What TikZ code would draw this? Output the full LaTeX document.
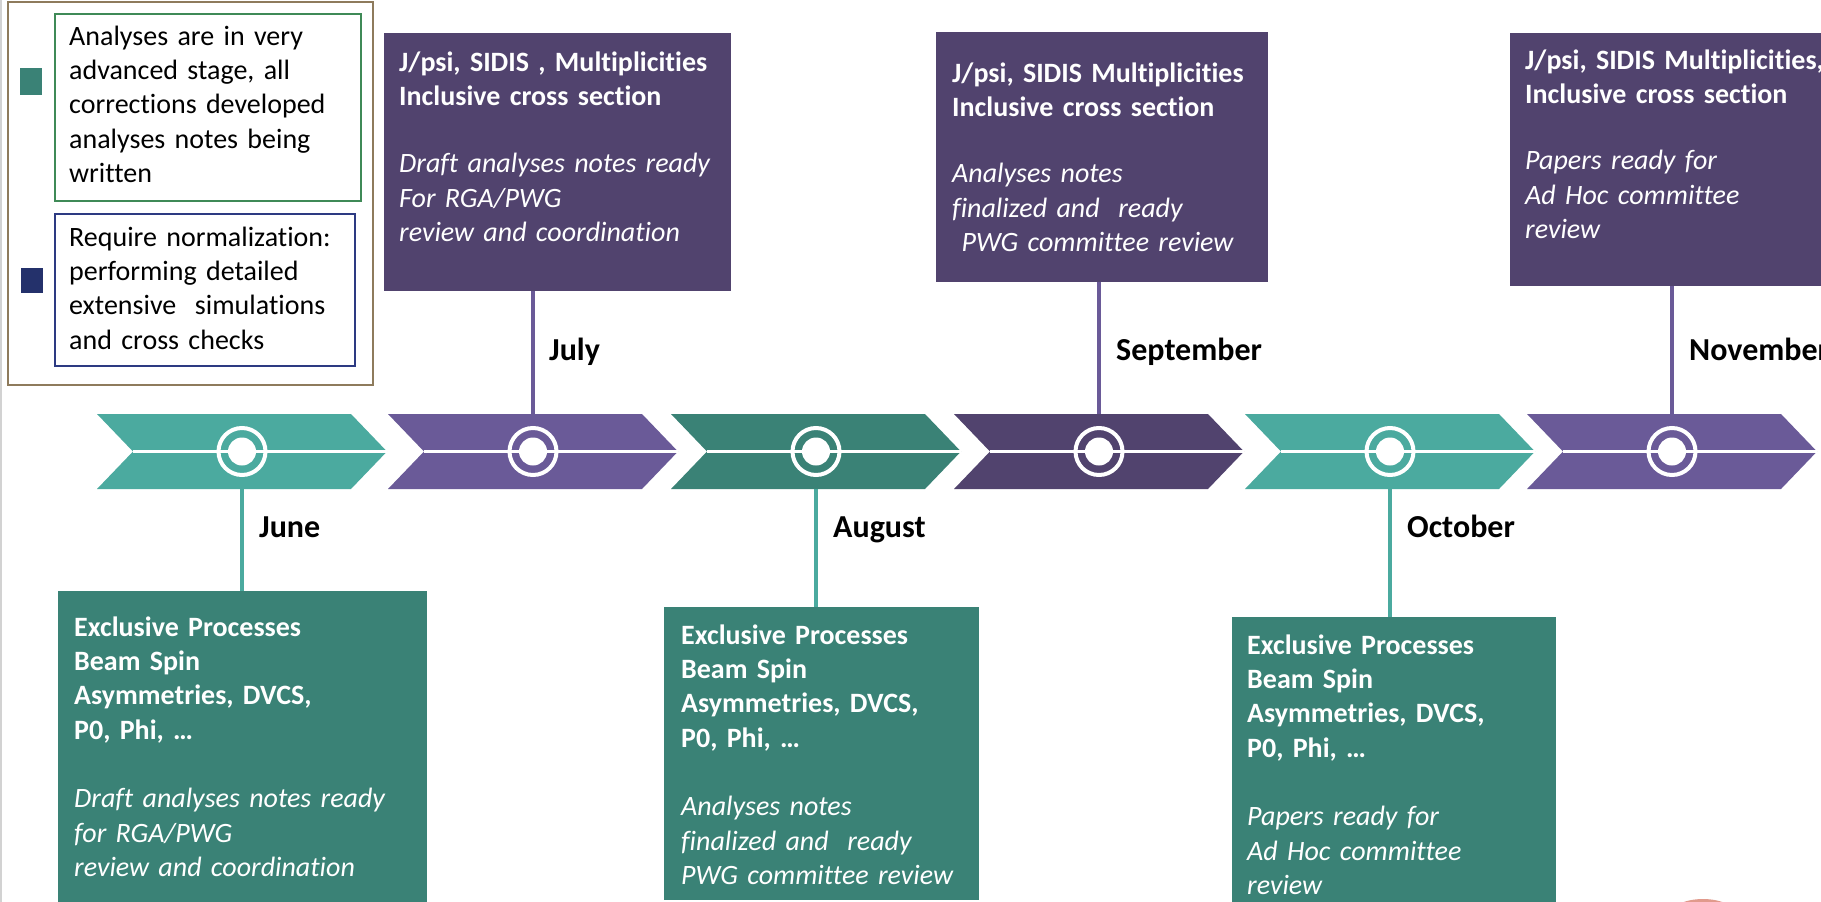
\documentclass[tikz,border=0pt]{standalone}
\usepackage{fontspec}
\setmainfont{Carlito}[Ligatures=NoCommon]

\definecolor{tealA}{HTML}{4BAA9F}
\definecolor{tealB}{HTML}{3A8276}
\definecolor{plumA}{HTML}{6A5A98}
\definecolor{plumB}{HTML}{51436E}
\definecolor{frameC}{HTML}{8E7B5C}
\definecolor{greenC}{HTML}{3F8A57}
\definecolor{navyC}{HTML}{2D3A82}
\definecolor{navyF}{HTML}{24316B}
\definecolor{salmonC}{HTML}{D9806F}

\tikzset{
  topbox/.style={fill=plumB, anchor=north west, inner sep=0pt, outer sep=0pt},
  lowbox/.style={fill=tealB, anchor=north west, inner sep=0pt, outer sep=0pt},
  boxtext/.style={text=white, anchor=base west, inner sep=0pt, text width=#1,
    align=left, font=\fontsize{28}{34.4}\selectfont},
  boxtext/.default=330pt,
  keybox/.style={anchor=north west, inner sep=0pt, line width=1.5pt},
  month/.style={anchor=base west, inner sep=0pt,
    font=\fontsize{32}{38}\selectfont\bfseries},
  ring/.style={circle, draw=white, line width=4pt, minimum size=47pt, inner sep=0pt},
  hub/.style={circle, fill=white, minimum size=28pt, inner sep=0pt},
  upline/.style={plumA, line width=4pt},
  downline/.style={tealA, line width=4pt},
}

\begin{document}
\begin{tikzpicture}[x=1pt,y=-1pt]
    \useasboundingbox (0,0) rectangle (1821,902);
    \clip (0,0) rectangle (1821,902);
    \fill[white] (0,0) rectangle (1821,902);
    \draw[gray!35, line width=1.5pt] (1,0) -- (1,902);

    % legend
    \draw[frameC, line width=2pt] (8,1.5) rectangle (373,385);
    \node[keybox, draw=greenC, minimum width=306pt, minimum height=187pt] (keyA) at (54,13) {};
    \node[keybox, draw=navyC, minimum width=300pt, minimum height=152pt] (keyB) at (54,213) {};
    \fill[tealB] (20,68) rectangle (42,95);
    \fill[navyF] (21,268) rectangle (43,293);
    \node[boxtext=290pt, text=black] (keyAtxt) at (69,45)
        {Analyses are in very\\advanced stage, all\\corrections developed\\analyses notes being\\written};
    \node[boxtext=290pt, text=black] (keyBtxt) at (69,246)
        {Require normalization:\\performing detailed\\extensive\ \ simulations\\and cross checks};

    % boxes above the line
    \node[topbox, minimum width=347pt, minimum height=258pt] (julbox) at (384,33) {};
    \node[topbox, minimum width=332pt, minimum height=250pt] (sepbox) at (936,32) {};
    \node[topbox, minimum width=330pt, minimum height=253pt] (novbox) at (1510,33) {};

    % boxes below the line
    \node[lowbox, minimum width=369pt, minimum height=320pt] (junbox) at (58,591) {};
    \node[lowbox, minimum width=315pt, minimum height=293pt] (augbox) at (664,607) {};
    \node[lowbox, minimum width=324pt, minimum height=300pt] (octbox) at (1232,617) {};

    % chevrons of the time line
    \foreach \cx/\col [count=\i] in {242/tealA,533/plumA,816/tealB,1099/plumB,1390/tealA,1672/plumA}{
        \coordinate (top\i) at (\cx,414);
        \coordinate (bot\i) at (\cx,489);
        \fill[\col] (\cx-145,414) -- (\cx+109,414) -- (\cx+145,451.5) -- (\cx+109,489)
            -- (\cx-145,489) -- (\cx-109,451.5) -- cycle;
        \draw[white, line width=3.5pt] (\cx-109,451.5) -- (\cx+145,451.5);
        \node[ring] (ring\i) at (\cx,451.5) {};
        \node[hub] (hub\i) at (\cx,451.5) {};
    }

    % stems
    \draw[upline] (top2) -- (top2 |- julbox.south);
    \draw[upline] (top4) -- (top4 |- sepbox.south);
    \draw[upline] (top6) -- (top6 |- novbox.south);
    \draw[downline] (bot1) -- (bot1 |- junbox.north);
    \draw[downline] (bot3) -- (bot3 |- augbox.north);
    \draw[downline] (bot5) -- (bot5 |- octbox.north);

    % months
    \node[month] (junlab) at (259,537) {June};
    \node[month] (jullab) at (549,360) {July};
    \node[month] (auglab) at (833,537) {August};
    \node[month] (seplab) at (1116,360) {September};
    \node[month] (octlab) at (1407,537) {October};
    \node[month] (novlab) at (1689,360) {November};

    % texts
    \node[boxtext] (jultxt) at (399,71)
        {\textbf{J/psi, SIDIS , Multiplicities}\\\textbf{Inclusive cross section}\\[33pt]
         \textit{Draft analyses notes ready}\\\textit{For RGA/PWG}\\\textit{review and coordination}};
    \node[boxtext] (septxt) at (952,82)
        {\textbf{J/psi, SIDIS Multiplicities}\\\textbf{Inclusive cross section}\\[32pt]
         \textit{Analyses notes}\\\textit{finalized and\ \ ready}\\\textit{\ PWG committee review}};
    \node[boxtext=360pt] (novtxt) at (1525,69)
        {\textbf{J/psi, SIDIS Multiplicities,}\\\textbf{Inclusive cross section}\\[32pt]
         \textit{Papers ready for}\\\textit{Ad Hoc committee}\\\textit{review}};
    \node[boxtext] (juntxt) at (74,636)
        {\textbf{Exclusive Processes}\\\textbf{Beam Spin}\\\textbf{Asymmetries, DVCS,}\\\textbf{P0, Phi, …}\\[34pt]
         \textit{Draft analyses notes ready}\\\textit{for RGA/PWG}\\\textit{review and coordination}};
    \node[boxtext] (augtxt) at (681,644)
        {\textbf{Exclusive Processes}\\\textbf{Beam Spin}\\\textbf{Asymmetries, DVCS,}\\\textbf{P0, Phi, …}\\[34pt]
         \textit{Analyses notes}\\\textit{finalized and\ \ ready}\\\textit{PWG committee review}};
    \node[boxtext] (octtxt) at (1247,654)
        {\textbf{Exclusive Processes}\\\textbf{Beam Spin}\\\textbf{Asymmetries, DVCS,}\\\textbf{P0, Phi, …}\\[34pt]
         \textit{Papers ready for}\\\textit{Ad Hoc committee}\\\textit{review}};

    % edge of a shape peeking in at the bottom
    \fill[salmonC!80] (1703,916) ellipse [x radius=34pt, y radius=17pt];
\end{tikzpicture}
\end{document}
